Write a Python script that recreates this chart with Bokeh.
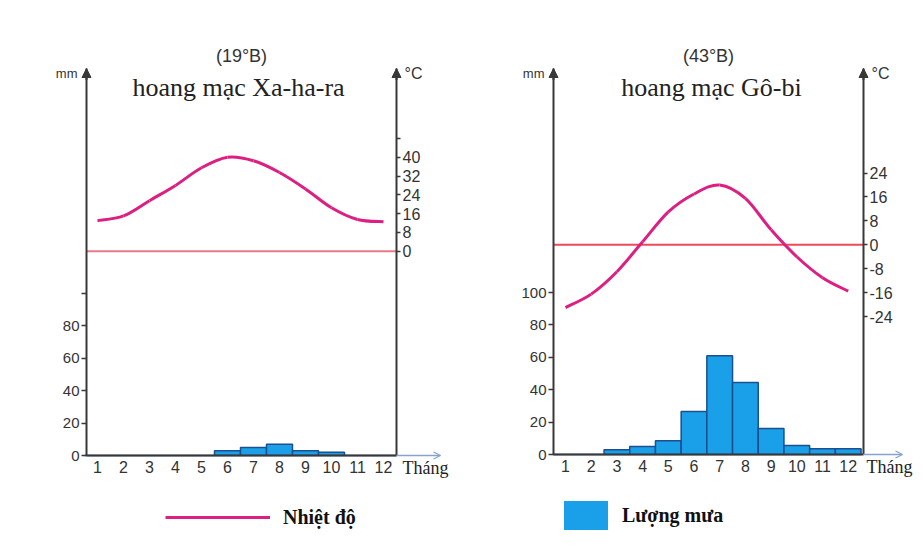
from bokeh.plotting import figure
from bokeh.models import (Range1d, LinearAxis, FixedTicker, Label, Arrow,
                          NormalHead, OpenHead, Legend, LegendItem, ColumnDataSource)
from bokeh.layouts import row
from bokeh.embed import file_html
from bokeh.resources import INLINE

# ---------------- data ----------------
months = [1, 2, 3, 4, 5, 6, 7, 8, 9, 10, 11, 12]
month_labels = ["1", "2", "3", "4", "5", "6", "7", "8", "9", "10", "11", "12"]

sahara_rain = [0, 0, 0, 0, 0, 3, 5, 7, 3, 2, 0, 0]
sahara_temp = [13, 15, 21.5, 28, 35.5, 40, 38.5, 33.5, 26.5, 18.5, 13.5, 12.5]
sahara_rain_ticks = [0, 20, 40, 60, 80, 100]
sahara_rain_tick_labels = ["0", "20", "40", "60", "80", ""]
sahara_temp_ticks = [0, 8, 16, 24, 32, 40, 48]
sahara_temp_tick_labels = ["0", "8", "16", "24", "32", "40", ""]

gobi_rain = [0, 0, 3, 5, 8.5, 26.5, 61, 44.5, 16, 5.5, 3.5, 3.5]
gobi_temp = [-21, -16.5, -9, 1, 11, 17, 20, 15.5, 5, -4, -11, -15.5]
gobi_rain_ticks = [0, 20, 40, 60, 80, 100]
gobi_rain_tick_labels = ["0", "20", "40", "60", "80", "100"]
gobi_temp_ticks = [-24, -16, -8, 0, 8, 16, 24]
gobi_temp_tick_labels = ["-24", "-16", "-8", "0", "8", "16", "24"]

# ---------------- styles ----------------
AXIS = "#383838"
TEMP_COLOR = "#DC1F80"
BAR_FILL = "#1AA0E8"
BAR_LINE = "#1B4F8F"
EXT_ARROW = "#86A3CF"
SANS = "Liberation Sans"
SERIF = "Liberation Serif"
FIG_H = 540


def smooth(xs, ys):
    """Bezier control points (Catmull-Rom) so the library draws a smooth curve through the data."""
    n = len(xs)
    d = dict(x0=[], y0=[], x1=[], y1=[], cx0=[], cy0=[], cx1=[], cy1=[])
    for i in range(n - 1):
        a = max(i - 1, 0)
        b = min(i + 2, n - 1)
        d["x0"].append(xs[i]); d["y0"].append(ys[i])
        d["x1"].append(xs[i + 1]); d["y1"].append(ys[i + 1])
        d["cx0"].append(xs[i] + (xs[i + 1] - xs[a]) / 6.0)
        d["cy0"].append(ys[i] + (ys[i + 1] - ys[a]) / 6.0)
        d["cx1"].append(xs[i + 1] - (xs[b] - xs[i]) / 6.0)
        d["cy1"].append(ys[i + 1] - (ys[b] - ys[i]) / 6.0)
    return d


def style_axis(ax, tick_out, font_size):
    ax.major_tick_out = tick_out
    ax.major_tick_in = 0
    ax.major_tick_line_color = AXIS if tick_out else None
    ax.major_tick_line_width = 1.5
    ax.minor_tick_line_color = None
    ax.axis_line_color = AXIS
    ax.axis_line_width = 2
    ax.major_label_text_font = SANS
    ax.major_label_text_font_size = font_size
    ax.major_label_text_color = "#333333"


def make_chart(title1, title2, rain, temp, rain_ticks, rain_labels, temp_ticks, temp_labels,
               fig_left, width, month1_px, px_per_month, ax_left, ax_right, ax_top, ax_bottom,
               px_per_mm, temp_zero_px, px_per_deg, zero_color, ext_px, thang_off,
               legend_kind, legend_loc, title_cx, title2_cx):
    mx = lambda px: 1 + (px - month1_px) / px_per_month
    ry = lambda py: (ax_bottom - py) / px_per_mm
    ty = lambda py: (temp_zero_px - py) / px_per_deg

    xl, xr = mx(ax_left), mx(ax_right)
    rtop = ry(ax_top)

    p = figure(width=width, height=FIG_H, output_backend="svg", toolbar_location=None,
               x_range=Range1d(mx(fig_left), mx(fig_left + width)),
               y_range=Range1d(ry(FIG_H), ry(0)),
               min_border_left=0, min_border_right=0, min_border_top=0, min_border_bottom=0)
    p.extra_y_ranges = {"temp": Range1d(ty(FIG_H), ty(0))}
    p.outline_line_color = None
    p.xgrid.visible = False
    p.ygrid.visible = False
    p.background_fill_color = "white"
    p.border_fill_color = "white"

    # x axis (months)
    xa = p.xaxis[0]
    xa.ticker = FixedTicker(ticks=months)
    xa.major_label_overrides = {m: l for m, l in zip(months, month_labels)}
    style_axis(xa, 0, "16px")
    xa.major_label_standoff = 5
    xa.fixed_location = 0
    xa.bounds = (xl, xr)

    # left axis (mm)
    ya = p.yaxis[0]
    ya.ticker = FixedTicker(ticks=rain_ticks)
    ya.major_label_overrides = {t: l for t, l in zip(rain_ticks, rain_labels)}
    style_axis(ya, 5, "15px")
    ya.major_label_standoff = 2
    ya.fixed_location = xl
    ya.bounds = (0, rtop)

    # right axis (°C)
    ra = LinearAxis(y_range_name="temp", ticker=FixedTicker(ticks=temp_ticks))
    ra.major_label_overrides = {t: l for t, l in zip(temp_ticks, temp_labels)}
    style_axis(ra, 4, "16px")
    ra.major_label_standoff = 2
    ra.fixed_location = xr
    ra.bounds = (ty(ax_bottom), ty(ax_top))
    p.add_layout(ra, "right")

    # zero line of temperature between the two vertical axes
    p.segment(x0=[xl], y0=[0], x1=[xr], y1=[0], y_range_name="temp",
              line_color=zero_color, line_width=2)

    # rainfall bars (fill layer, used as legend key, then outlined bars on top)
    src = ColumnDataSource(dict(month=months, rain=rain))
    bar_fill = p.vbar(x="month", top="rain", bottom=0, width=1.0, source=src,
                      fill_color=BAR_FILL, line_color=None)
    p.vbar(x="month", top="rain", bottom=0, width=1.0, source=src,
           fill_color=BAR_FILL, line_color=BAR_LINE, line_width=1.5)

    # temperature curve
    tsrc = ColumnDataSource(smooth(months, temp))
    tline = p.bezier(x0="x0", y0="y0", x1="x1", y1="y1", cx0="cx0", cy0="cy0",
                     cx1="cx1", cy1="cy1", source=tsrc, y_range_name="temp",
                     line_color=TEMP_COLOR, line_width=3)

    # axis arrow heads
    for xv in (xl, xr):
        p.add_layout(Arrow(end=NormalHead(size=9, fill_color=AXIS, line_color=AXIS),
                           x_start=xv, y_start=rtop * 0.97, x_end=xv, y_end=rtop,
                           line_color=AXIS, line_width=2))
    # month axis extension arrow
    p.add_layout(Arrow(end=OpenHead(size=7, line_color=EXT_ARROW, line_width=1.3),
                       x_start=xr, y_start=0, x_end=mx(ax_right + ext_px), y_end=0,
                       line_color=EXT_ARROW, line_width=1.3))

    # axis unit labels
    p.add_layout(Label(x=xl, y=rtop, x_offset=-9, y_offset=-5, text="mm", text_align="right",
                       text_baseline="middle", text_font=SANS, text_font_size="13px",
                       text_color="#333333"))
    p.add_layout(Label(x=xr, y=rtop, x_offset=8, y_offset=-5, text="°C", text_align="left",
                       text_baseline="middle", text_font=SANS, text_font_size="16px",
                       text_color="#333333"))
    p.add_layout(Label(x=xr, y=0, x_offset=thang_off, y_offset=-12, text="Tháng",
                       text_align="left", text_baseline="middle", text_font=SERIF,
                       text_font_size="18px", text_color="#222222"))

    # titles
    p.add_layout(Label(x=mx(title_cx), y=rtop, y_offset=13, text=title1, text_align="center",
                       text_baseline="middle", text_font=SANS, text_font_size="18px",
                       text_color="#333333"))
    p.add_layout(Label(x=mx(title2_cx), y=rtop, y_offset=-19, text=title2,
                       text_align="center", text_baseline="middle", text_font=SERIF,
                       text_font_size="26px", text_color="#222222"))

    # legend
    if legend_kind == "temp":
        leg = Legend(items=[LegendItem(label="Nhiệt độ", renderers=[tline])],
                     location=legend_loc, glyph_width=105, glyph_height=24,
                     label_standoff=13, label_height=24)
    else:
        leg = Legend(items=[LegendItem(label="Lượng mưa", renderers=[bar_fill])],
                     location=legend_loc, glyph_width=55, glyph_height=36,
                     label_standoff=9, label_height=36)
    leg.padding = 0
    leg.margin = 0
    leg.spacing = 0
    leg.background_fill_alpha = 0
    leg.border_line_alpha = 0
    leg.label_text_font = SERIF
    leg.label_text_font_style = "bold"
    leg.label_text_font_size = "20px"
    leg.label_text_color = "#111111"
    leg.label_text_baseline = "middle"
    p.add_layout(leg, "center")
    return p


f1 = make_chart("(19°B)", "hoang mạc Xa-ha-ra", sahara_rain, sahara_temp,
                sahara_rain_ticks, sahara_rain_tick_labels, sahara_temp_ticks, sahara_temp_tick_labels,
                fig_left=0, width=463, month1_px=97, px_per_month=26.0,
                ax_left=86, ax_right=396, ax_top=68, ax_bottom=455,
                px_per_mm=1.625, temp_zero_px=250.7, px_per_deg=2.35, zero_color="#E77A88",
                ext_px=44, thang_off=6, legend_kind="temp", legend_loc=(165, 11),
                title_cx=241, title2_cx=238)

f2 = make_chart("(43°B)", "hoang mạc Gô-bi", gobi_rain, gobi_temp,
                gobi_rain_ticks, gobi_rain_tick_labels, gobi_temp_ticks, gobi_temp_tick_labels,
                fig_left=463, width=452, month1_px=565, px_per_month=25.7,
                ax_left=553, ax_right=863, ax_top=68, ax_bottom=454,
                px_per_mm=1.62, temp_zero_px=244.3, px_per_deg=2.99, zero_color="#EC4A5A",
                ext_px=39, thang_off=3, legend_kind="rain", legend_loc=(95, 7),
                title_cx=708, title2_cx=711)

layout = row(f1, f2, spacing=0)
open("out.html", "w").write(file_html(layout, INLINE))
